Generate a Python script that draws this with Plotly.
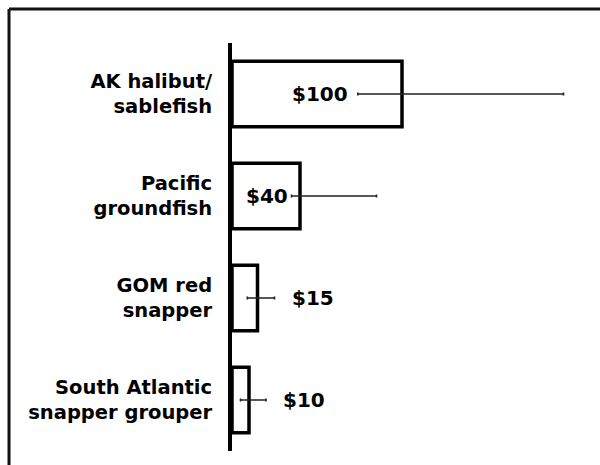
import plotly.graph_objects as go

# fishery categories (top to bottom) and values in $
fisheries = ["AK halibut/<br>sablefish", "Pacific<br>groundfish",
             "GOM red<br>snapper", "South Atlantic<br>snapper grouper"]
values = [100, 40, 15, 10]
err_plus = [95, 45, 10, 10]
err_minus = [26, 5, 6, 5]
value_labels = ["$100", "$40", "$15", "$10"]

W, H = 600, 465
ML, MR, MT, MB = 232, 0, 43, 14
pw, ph = W - ML - MR, H - MT - MB
scale = 1.7  # px per $

fig = go.Figure()
fig.add_trace(go.Bar(
    x=values, y=fisheries, orientation="h", width=0.64,
    marker=dict(color="white", line=dict(color="black", width=3.5)),
    error_x=dict(type="data", array=err_plus, arrayminus=err_minus,
                 color="#222222", thickness=1.6, width=1.5),
    hoverinfo="skip"))

# value labels beside the error bars
for i, (v, lab) in enumerate(zip(values, value_labels)):
    if v >= 40:
        fig.add_annotation(x=v - err_minus[i], y=fisheries[i], text=lab,
                           xanchor="right", xshift=-8 if v > 50 else -2,
                           showarrow=False, font=dict(size=20))
    else:
        fig.add_annotation(x=v + err_plus[i], y=fisheries[i], text=lab,
                           xanchor="left", xshift=15,
                           showarrow=False, font=dict(size=20))

# outer frame: only the top and left edges show in the crop
fx = (9 - ML) / pw
fy = (H - MB - 9) / ph
frame = dict(color="#111111", width=3)
fig.add_shape(type="line", xref="paper", yref="paper",
              x0=fx, x1=1.5, y0=fy, y1=fy, line=frame)
fig.add_shape(type="line", xref="paper", yref="paper",
              x0=fx, x1=fx, y0=-0.5, y1=fy, line=frame)

fig.update_layout(
    width=W, height=H, margin=dict(l=ML, r=MR, t=MT, b=MB),
    paper_bgcolor="white", plot_bgcolor="white", showlegend=False,
    font=dict(family="DejaVu Sans", color="black", size=19.5, weight="bold"),
    bargap=0.36)
fig.update_xaxes(range=[0, pw / scale], visible=False)
fig.update_yaxes(categoryorder="array", categoryarray=fisheries,
                 autorange="reversed", showline=True, linecolor="black",
                 linewidth=4, ticks="", showgrid=False, zeroline=False,
                 ticklabelstandoff=12)

fig.write_html("out.html", config={"displayModeBar": False},
               post_script="document.body.style.margin='0';"
                           "document.body.style.overflow='hidden';")
